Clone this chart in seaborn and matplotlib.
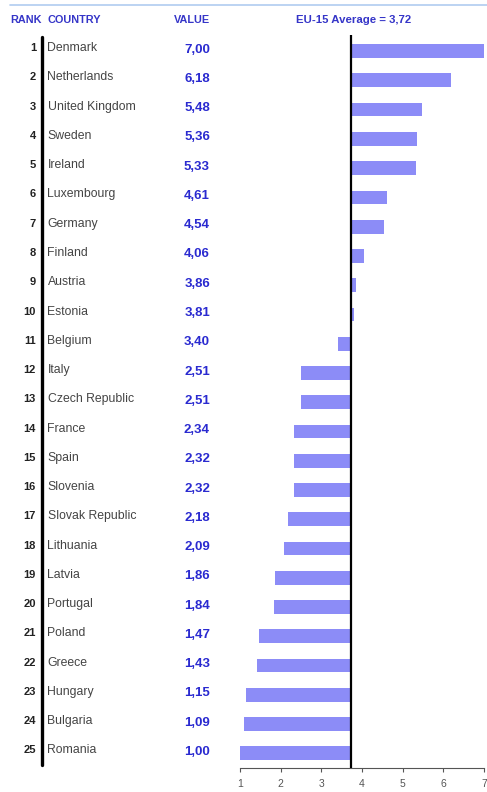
import matplotlib
matplotlib.use("Agg")
import matplotlib.pyplot as plt
import seaborn as sns
import pandas as pd
from matplotlib.transforms import blended_transform_factory
from matplotlib.lines import Line2D

ranks = list(range(1, 26))
countries = ["Denmark", "Netherlands", "United Kingdom", "Sweden", "Ireland",
             "Luxembourg", "Germany", "Finland", "Austria", "Estonia",
             "Belgium", "Italy", "Czech Republic", "France", "Spain",
             "Slovenia", "Slovak Republic", "Lithuania", "Latvia", "Portugal",
             "Poland", "Greece", "Hungary", "Bulgaria", "Romania"]
values = [7.00, 6.18, 5.48, 5.36, 5.33, 4.61, 4.54, 4.06, 3.86, 3.81,
          3.40, 2.51, 2.51, 2.34, 2.32, 2.32, 2.18, 2.09, 1.86, 1.84,
          1.47, 1.43, 1.15, 1.09, 1.00]
average = 3.72
x_ticks = [1, 2, 3, 4, 5, 6, 7]

sns.set_style("white")
plt.rcParams['font.family'] = ['Liberation Sans', 'DejaVu Sans']

W, H = 487, 792
fig = plt.figure(figsize=(W / 100, H / 100), dpi=100)
ax = fig.add_axes([240 / W, 24 / H, (484 - 240) / W, (768 - 35) / H])

df = pd.DataFrame({"country": countries, "diff": [v - average for v in values]})
sns.barplot(data=df, x="diff", y="country", orient="h", color="#8c8cf7",
            saturation=1, width=0.47, ax=ax)
for p in ax.patches:
    p.set_x(p.get_x() + average)
    p.set_edgecolor("none")

ax.set_xlim(1, 7)
ax.set_ylim(24.5, -0.55)
ax.axvline(average, color="black", lw=1.6, zorder=5)
ax.set_xticks(x_ticks)
ax.set_xticklabels([str(t) for t in x_ticks], fontsize=7.5, color="#555555")
ax.tick_params(axis="x", length=3, width=0.8, color="#555555", pad=5, direction="out", bottom=True)
ax.set_yticks([])
ax.set_xlabel("")
ax.set_ylabel("")
for s in ["top", "right", "left"]:
    ax.spines[s].set_visible(False)
ax.spines["bottom"].set_color("#555555")
ax.spines["bottom"].set_linewidth(0.8)

tr = blended_transform_factory(fig.transFigure, ax.transData)
for i, (r, c, v) in enumerate(zip(ranks, countries, values)):
    ax.text(36 / W, i - 0.1, str(r), transform=tr, ha="right", va="center",
            fontsize=8, fontweight="bold", color="#222222")
    ax.text(47.5 / W, i - 0.1, c, transform=tr, ha="left", va="center",
            fontsize=8.8, color="#444444")
    ax.text(210 / W, i - 0.05, f"{v:.2f}".replace(".", ","), transform=tr,
            ha="right", va="center", fontsize=9.5, fontweight="bold", color="#2a2ad0")

hdr_y = 1 - 20 / H
hc = "#3535c8"
fig.text(10 / W, hdr_y, "RANK", ha="left", va="center", fontsize=7.8, fontweight="bold", color=hc)
fig.text(48 / W, hdr_y, "COUNTRY", ha="left", va="center", fontsize=7.8, fontweight="bold", color=hc)
fig.text(210 / W, hdr_y, "VALUE", ha="right", va="center", fontsize=7.8, fontweight="bold", color=hc)
fig.text(354 / W, hdr_y, "EU-15 Average = 3,72", ha="center", va="center", fontsize=8.2, fontweight="bold", color=hc)

fig.add_artist(Line2D([10 / W, 1], [1 - 5 / H, 1 - 5 / H], transform=fig.transFigure,
                      color="#b0ccf0", lw=1.2))
fig.add_artist(Line2D([42 / W, 42 / W], [1 - 37 / H, 1 - 765 / H], transform=fig.transFigure,
                      color="black", lw=2.4))

fig.savefig("out.png", dpi=100)
